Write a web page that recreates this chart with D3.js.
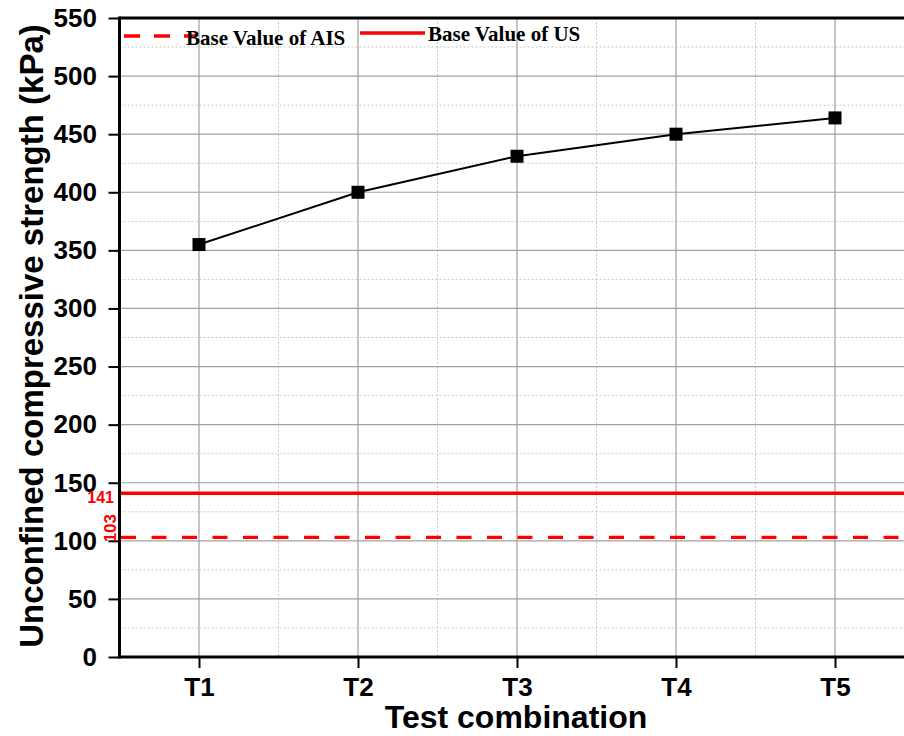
<!DOCTYPE html>
<html>
<head>
<meta charset="utf-8">
<script src="https://cdn.jsdelivr.net/npm/d3@7"></script>
<style>
  html, body { margin: 0; padding: 0; background: #fff; }
  svg { display: block; }
</style>
</head>
<body>
<svg id="chart" width="904" height="736"></svg>
<script>
// Data
const categories = ["T1", "T2", "T3", "T4", "T5"];
const strength = [355, 400, 431, 450, 464];
const baseAIS = 103;
const baseUS = 141;
const yTicks = [0, 50, 100, 150, 200, 250, 300, 350, 400, 450, 500, 550];
const legendLabels = ["Base Value of AIS", "Base Value of US"];

const svg = d3.select("#chart");
const plotLeft = 119.5, plotTop = 18, plotBottom = 657, plotRight = 904;
const sans = "Liberation Sans, Arial, sans-serif";
const serif = "Liberation Serif, Times New Roman, serif";

const x = d3.scaleLinear().domain([0.5, 5.5]).range([plotLeft, plotLeft + 795]);
const y = d3.scaleLinear().domain([0, 550]).range([plotBottom, plotTop]);

const g = svg.append("g");

// Minor grid (dotted) at half steps
const minorY = d3.range(25, 550, 50);
g.selectAll(".gy-minor").data(minorY).enter().append("line")
  .attr("x1", plotLeft).attr("x2", plotRight)
  .attr("y1", d => y(d)).attr("y2", d => y(d))
  .attr("stroke", "#c8c8c8").attr("stroke-width", 1).attr("stroke-dasharray", "2,2");
const minorX = [1.5, 2.5, 3.5, 4.5];
g.selectAll(".gx-minor").data(minorX).enter().append("line")
  .attr("x1", d => x(d)).attr("x2", d => x(d))
  .attr("y1", plotTop).attr("y2", plotBottom)
  .attr("stroke", "#c8c8c8").attr("stroke-width", 1).attr("stroke-dasharray", "2,2");

// Major grid
g.selectAll(".gy").data(yTicks.slice(1, -1)).enter().append("line")
  .attr("x1", plotLeft).attr("x2", plotRight)
  .attr("y1", d => y(d)).attr("y2", d => y(d))
  .attr("stroke", "#a0a0a0").attr("stroke-width", 1.2);
g.selectAll(".gx").data(categories).enter().append("line")
  .attr("x1", (d, i) => x(i + 1)).attr("x2", (d, i) => x(i + 1))
  .attr("y1", plotTop).attr("y2", plotBottom)
  .attr("stroke", "#a0a0a0").attr("stroke-width", 1.2);

// Reference lines
g.append("line")
  .attr("x1", plotLeft).attr("x2", plotRight)
  .attr("y1", y(baseUS)).attr("y2", y(baseUS))
  .attr("stroke", "#ff0000").attr("stroke-width", 3.4);
g.append("line")
  .attr("x1", plotLeft + 1.5).attr("x2", plotRight)
  .attr("y1", y(baseAIS)).attr("y2", y(baseAIS))
  .attr("stroke", "#ff0000").attr("stroke-width", 3.4).attr("stroke-dasharray", "15,15.5");

// Data series
const line = d3.line().x((d, i) => x(i + 1)).y(d => y(d));
g.append("path").datum(strength)
  .attr("d", line).attr("fill", "none")
  .attr("stroke", "#000").attr("stroke-width", 2);
g.selectAll(".pt").data(strength).enter().append("rect")
  .attr("x", (d, i) => x(i + 1) - 6.5).attr("y", d => y(d) - 6.5)
  .attr("width", 13).attr("height", 13).attr("fill", "#000");

// Axes
const yAxis = d3.axisLeft(y).tickValues(yTicks).tickSize(11).tickPadding(11.5);
const ya = svg.append("g").attr("transform", `translate(${plotLeft},0)`).call(yAxis);
ya.select(".domain").attr("stroke-width", 3).attr("d", `M0,${plotTop - 1.5}V${plotBottom + 1.5}`);
ya.selectAll(".tick line").attr("stroke-width", 2);
ya.selectAll(".tick text")
  .attr("font-family", sans).attr("font-weight", "bold")
  .attr("font-size", 26).attr("fill", "#000");

const xAxis = d3.axisBottom(x).tickValues([1, 2, 3, 4, 5])
  .tickFormat(d => categories[d - 1]).tickSize(11).tickPadding(10);
const xa = svg.append("g").attr("transform", `translate(0,${plotBottom})`).call(xAxis);
xa.select(".domain").attr("stroke-width", 3).attr("d", `M${plotLeft},0H${plotRight}`);
xa.selectAll(".tick line").attr("stroke-width", 2);
xa.selectAll(".tick text")
  .attr("font-family", sans).attr("font-weight", "bold")
  .attr("font-size", 26).attr("fill", "#000");

// Top frame
svg.append("line").attr("x1", plotLeft).attr("x2", plotRight)
  .attr("y1", plotTop).attr("y2", plotTop)
  .attr("stroke", "#000").attr("stroke-width", 3);

// Reference value labels
svg.append("text").attr("x", plotLeft - 5.5).attr("y", y(baseUS) + 10)
  .attr("text-anchor", "end").attr("fill", "#ff0000")
  .attr("font-family", sans).attr("font-weight", "bold")
  .attr("font-size", 16).text(baseUS);
svg.append("text")
  .attr("transform", `translate(${plotLeft - 3.5},${y(baseAIS) + 5}) rotate(-90)`)
  .attr("text-anchor", "start").attr("fill", "#ff0000")
  .attr("font-family", sans).attr("font-weight", "bold")
  .attr("font-size", 17).text(baseAIS);

// Legend
const lg = svg.append("g");
lg.append("line").attr("x1", 124).attr("x2", 196).attr("y1", 36).attr("y2", 36)
  .attr("stroke", "#ff0000").attr("stroke-width", 3.4).attr("stroke-dasharray", "16,14");
lg.append("text").attr("x", 186).attr("y", 45).text(legendLabels[0]);
lg.append("line").attr("x1", 360).attr("x2", 425).attr("y1", 33).attr("y2", 33)
  .attr("stroke", "#ff0000").attr("stroke-width", 3.4);
lg.append("text").attr("x", 428).attr("y", 41).text(legendLabels[1]);
lg.selectAll("text")
  .attr("font-family", serif).attr("font-weight", "bold")
  .attr("font-size", 21).attr("fill", "#000");

// Axis titles
svg.append("text").attr("x", 516).attr("y", 728).attr("text-anchor", "middle")
  .attr("font-family", sans).attr("font-weight", "bold")
  .attr("font-size", 32).text("Test combination");
svg.append("text")
  .attr("transform", "translate(43,336) rotate(-90)").attr("text-anchor", "middle")
  .attr("font-family", sans).attr("font-weight", "bold")
  .attr("font-size", 33).text("Unconfined compressive strength (kPa)");
</script>
</body>
</html>
